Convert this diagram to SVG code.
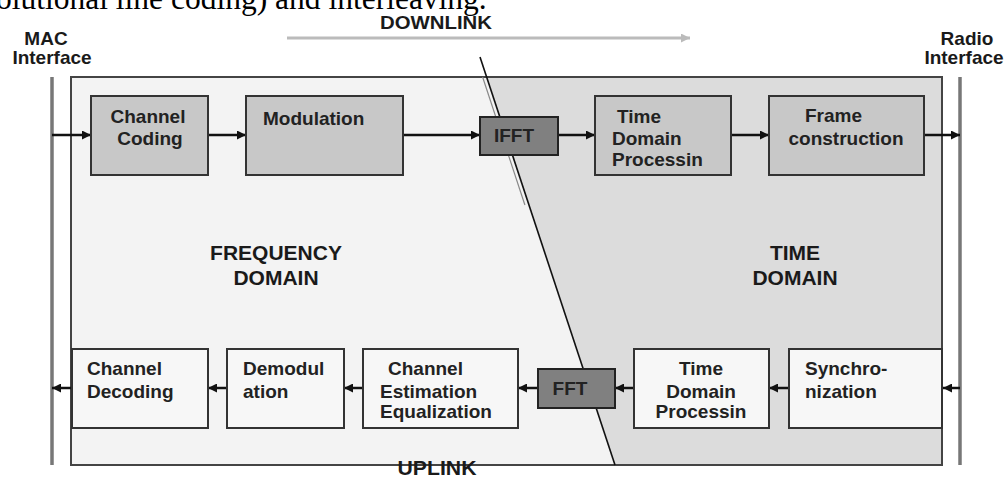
<svg xmlns="http://www.w3.org/2000/svg" width="1008" height="477" viewBox="0 0 1008 477">
<style>
.t{font-family:"Liberation Sans",Arial,sans-serif;font-weight:bold;font-size:19px;fill:#222}
.big{font-family:"Liberation Sans",Arial,sans-serif;font-weight:bold;fill:#1a1a1a}
.light{fill:#c8c8c8;stroke:#333;stroke-width:2}
.dark{fill:#808080;stroke:#222;stroke-width:2}
.white{fill:#f7f7f7;stroke:#333;stroke-width:2}
.conn{stroke:#111;stroke-width:2.5;fill:none}
.iface{stroke:#777;stroke-width:3.5}
</style>
<defs>
<marker id="ah" viewBox="0 0 10 10" refX="10" refY="5" markerUnits="userSpaceOnUse" markerWidth="11" markerHeight="9" orient="auto">
<path d="M0,0 L10,5 L0,10 z" fill="#111"/>
</marker>
<marker id="ahg" viewBox="0 0 10 10" refX="10" refY="5" markerUnits="userSpaceOnUse" markerWidth="12" markerHeight="9" orient="auto">
<path d="M0,0 L10,5 L0,10 z" fill="#bbb"/>
</marker>
</defs>
<rect width="1008" height="477" fill="#ffffff"/>
<text x="-4" y="9" style="font-family:'Liberation Serif','Times New Roman',serif;font-size:31.5px;fill:#000">olutional line coding) and interleaving.</text>

<g id="downlink">
<line x1="287" y1="38" x2="690" y2="38" stroke="#bbb" stroke-width="3" marker-end="url(#ahg)"/>
<text class="big" x="436" y="29" font-size="19" text-anchor="middle" textLength="112" lengthAdjust="spacingAndGlyphs">DOWNLINK</text>
</g>

<g id="main-frame">
<rect x="71" y="77" width="871" height="388" fill="#f3f3f3" stroke="#444" stroke-width="2"/>
<polygon points="486.6,77 942,77 942,465 615,465" fill="#dcdcdc"/>
<rect x="71" y="77" width="871" height="388" fill="none" stroke="#444" stroke-width="2"/>
<line x1="480" y1="57" x2="615" y2="465" stroke="#111" stroke-width="1.6"/>
<line x1="482.6" y1="77" x2="524.9" y2="205" stroke="#888" stroke-width="1.2"/>
</g>

<g id="mac-interface">
<line class="iface" x1="52" y1="77" x2="52" y2="465"/>
<text class="big" x="46" y="45" font-size="19" text-anchor="middle">MAC</text>
<text class="big" x="52" y="64" font-size="19" text-anchor="middle">Interface</text>
</g>
<g id="radio-interface">
<line class="iface" x1="960" y1="77" x2="960" y2="465"/>
<text class="big" x="967" y="45" font-size="19" text-anchor="middle">Radio</text>
<text class="big" x="964" y="64" font-size="19" text-anchor="middle">Interface</text>
</g>

<g id="domain-labels">
<text class="big" x="276" y="260" font-size="21" text-anchor="middle">FREQUENCY</text>
<text class="big" x="276" y="285" font-size="21" text-anchor="middle">DOMAIN</text>
<text class="big" x="795" y="260" font-size="21" text-anchor="middle">TIME</text>
<text class="big" x="795" y="285" font-size="21" text-anchor="middle">DOMAIN</text>
</g>

<g id="connectors">
<line class="conn" x1="52" y1="135" x2="91" y2="135" marker-end="url(#ah)"/>
<line class="conn" x1="208" y1="135" x2="246" y2="135" marker-end="url(#ah)"/>
<line class="conn" x1="403" y1="135" x2="480" y2="135" marker-end="url(#ah)"/>
<line class="conn" x1="558" y1="135" x2="595" y2="135" marker-end="url(#ah)"/>
<line class="conn" x1="731" y1="135" x2="769" y2="135" marker-end="url(#ah)"/>
<line class="conn" x1="924" y1="135" x2="960" y2="135" marker-end="url(#ah)"/>
<line class="conn" x1="960" y1="388" x2="943" y2="388" marker-end="url(#ah)"/>
<line class="conn" x1="789" y1="388" x2="769" y2="388" marker-end="url(#ah)"/>
<line class="conn" x1="634" y1="388" x2="615" y2="388" marker-end="url(#ah)"/>
<line class="conn" x1="538" y1="388" x2="518" y2="388" marker-end="url(#ah)"/>
<line class="conn" x1="363" y1="388" x2="344" y2="388" marker-end="url(#ah)"/>
<line class="conn" x1="227" y1="388" x2="208" y2="388" marker-end="url(#ah)"/>
<line class="conn" x1="72" y1="388" x2="52" y2="388" marker-end="url(#ah)"/>
</g>

<g id="channel-coding">
<rect class="light" x="91" y="96" width="117" height="79"/>
<text class="t" x="148" y="123" text-anchor="middle">Channel</text>
<text class="t" x="150" y="145" text-anchor="middle">Coding</text>
</g>
<g id="modulation">
<rect class="light" x="246" y="96" width="157" height="79"/>
<text class="t" x="263" y="125">Modulation</text>
</g>
<g id="ifft">
<rect class="dark" x="480" y="117" width="78" height="38"/>
<text class="t" x="514" y="142" text-anchor="middle">IFFT</text>
</g>
<g id="time-domain-tx">
<rect class="light" x="595" y="96" width="136" height="79"/>
<text class="t" x="617" y="123">Time</text>
<text class="t" x="612" y="145">Domain</text>
<text class="t" x="612" y="166">Processin</text>
</g>
<g id="frame-construction">
<rect class="light" x="769" y="96" width="155" height="79"/>
<text class="t" x="805" y="122">Frame</text>
<text class="t" x="846" y="145" text-anchor="middle">construction</text>
</g>

<g id="channel-decoding">
<rect class="white" x="72" y="349" width="136" height="79"/>
<text class="t" x="87" y="375">Channel</text>
<text class="t" x="87" y="398">Decoding</text>
</g>
<g id="demodulation">
<rect class="white" x="227" y="349" width="117" height="79"/>
<text class="t" x="243" y="375">Demodul</text>
<text class="t" x="243" y="398">ation</text>
</g>
<g id="channel-estimation">
<rect class="white" x="363" y="349" width="155" height="79"/>
<text class="t" x="388" y="375">Channel</text>
<text class="t" x="380" y="398">Estimation</text>
<text class="t" x="380" y="418">Equalization</text>
</g>
<g id="fft">
<rect class="dark" x="538" y="369" width="77" height="39"/>
<text class="t" x="570" y="395" text-anchor="middle">FFT</text>
</g>
<g id="time-domain-rx">
<rect class="white" x="634" y="349" width="135" height="79"/>
<text class="t" x="701" y="375" text-anchor="middle">Time</text>
<text class="t" x="701" y="398" text-anchor="middle">Domain</text>
<text class="t" x="701" y="418" text-anchor="middle">Processin</text>
</g>
<g id="synchronization">
<rect class="white" x="789" y="349" width="153" height="79"/>
<text class="t" x="805" y="375">Synchro-</text>
<text class="t" x="805" y="398">nization</text>
</g>

<g id="uplink">
<text class="big" x="437" y="475" font-size="21" text-anchor="middle" textLength="79" lengthAdjust="spacingAndGlyphs">UPLINK</text>
</g>
</svg>
